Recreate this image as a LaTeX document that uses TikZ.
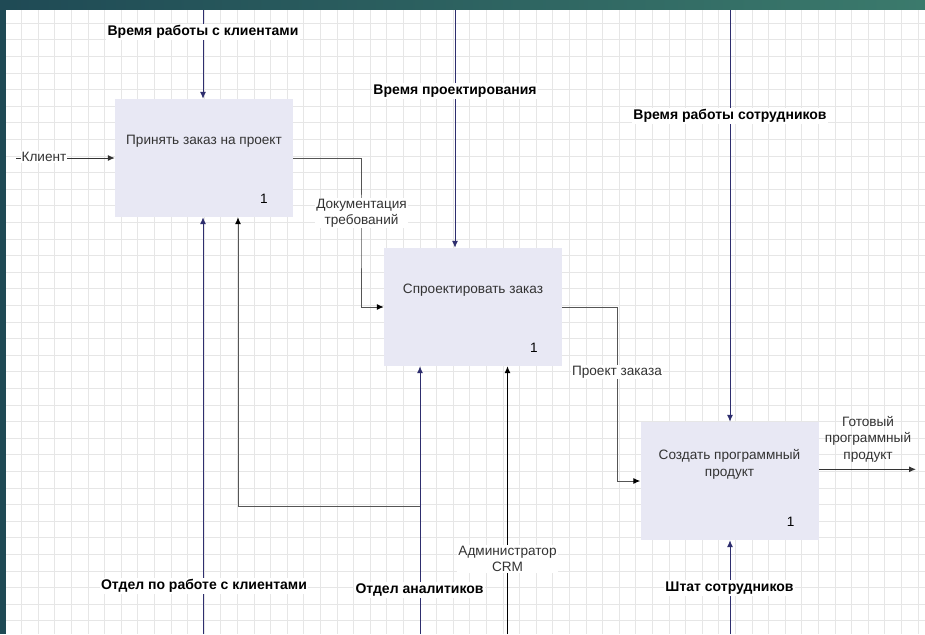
\documentclass[tikz,border=0pt]{standalone}
\usepackage{fontspec}
\setmainfont{Liberation Sans}
\usetikzlibrary{arrows.meta}
\definecolor{navy}{HTML}{2E2E6E}
\definecolor{boxc}{HTML}{E8E8F4}
\definecolor{txt}{HTML}{333333}
\definecolor{gridc}{HTML}{E6E6E6}
\definecolor{tealL}{HTML}{1F4A55}
\definecolor{tealR}{HTML}{3B7A6C}
\definecolor{lineg}{HTML}{555555}
\newcommand{\fsz}{\fontsize{13.6}{16.5}\selectfont}
\newcommand{\fszb}{\fontsize{14}{16.5}\selectfont}
\begin{document}
\begin{tikzpicture}[x=1pt,y=-1pt,
  box/.style={fill=boxc, minimum width=178pt, minimum height=118pt, inner sep=0pt},
  btext/.style={text=txt, font=\fsz, align=center, inner sep=0pt},
  numtext/.style={text=black, font=\fsz, inner sep=0pt},
  blabel/.style={fill=white, font=\fszb\bfseries, text=black, inner sep=1.5pt},
  rlabel/.style={fill=white, font=\fsz, text=txt, align=center, inner sep=1pt},
  navyarrow/.style={draw=navy, line width=1pt, -{Latex[length=7pt,width=6pt]}},
  grayarrow/.style={draw=lineg, line width=1pt, -{Latex[length=7pt,width=6pt,color=black]}},
  blackarrow/.style={draw=black, line width=1pt, -{Latex[length=7pt,width=6pt]}},
  grayline/.style={draw=lineg, line width=1pt}]
\useasboundingbox (0,0) rectangle (925,634);
\fill[white] (0,0) rectangle (925,634);
% grid
\foreach \i in {0,...,55} \draw[gridc, line width=0.9pt] ({5.1+16.6*\i},0) -- ({5.1+16.6*\i},634);
\foreach \j in {0,...,38} \draw[gridc, line width=0.9pt] (0,{6.7+16.6*\j}) -- (925,{6.7+16.6*\j});
% frame stripes
\shade[left color=tealL, right color=tealR] (0,0) rectangle (925,9.5);
\fill[tealL] (0,0) rectangle (6,634);

% boxes
\node[box] (b1) at (204,158) {};
\node[box] (b2) at (473,307) {};
\node[box] (b3) at (729.5,481) {};
\node[btext] (t1) at (204,141.7) {Принять заказ на проект};
\node[btext] (t2) at (473,290) {Спроектировать заказ};
\node[btext] (t3) at (729.5,464.5) {Создать программный\\продукт};
\node[numtext] (n1) at (264,199) {1};
\node[numtext] (n2) at (534,348) {1};
\node[numtext] (n3) at (790.7,522) {1};

% free ends
\coordinate (c1) at (203,10);
\coordinate (c2) at (455,10);
\coordinate (c3) at (730,10);
\coordinate (m1) at (203,634);
\coordinate (m2) at (420,634);
\coordinate (m2b) at (420,506);
\coordinate (fb) at (238,506);
\coordinate (m3) at (507.5,634);
\coordinate (m4) at (730,634);
\coordinate (in1) at (16,158);
\coordinate (k1) at (361,230);
\coordinate (k2) at (617,400);
\coordinate (o3) at (916,469.3);

% connectors
\draw[navyarrow] (c1) -- (c1 |- b1.north);
\draw[navyarrow] (c2) -- (c2 |- b2.north);
\draw[navyarrow] (c3) -- (c3 |- b3.north);
\draw[navyarrow] (m1) -- (m1 |- b1.south);
\draw[navyarrow] (m2) -- (m2 |- b2.south);
\draw[grayline] (m2b) -- (fb);
\draw[grayarrow] (fb) -- (fb |- b1.south);
\draw[blackarrow] (m3) -- (m3 |- b2.south);
\draw[navyarrow] (m4) -- (m4 |- b3.south);
\draw[blackarrow, draw=txt] (in1) -- (b1.west);
\draw[grayarrow] (b1.east) -| (k1) |- (b2.west);
\draw[grayarrow] (b2.east) -| (k2) |- (b3.west);
\draw[blackarrow, draw=txt] (o3 -| b3.east) -- (o3);

% labels
\node[blabel] (l1) at (203,32) {Время работы с клиентами};
\node[blabel] (l2) at (455,91) {Время проектирования};
\node[blabel] (l3) at (730,116) {Время работы сотрудников};
\node[blabel] (l4) at (204,586) {Отдел по работе с клиентами};
\node[blabel] (l5) at (419.5,590) {Отдел аналитиков};
\node[blabel] (l6) at (729.5,588) {Штат сотрудников};
\node[rlabel] (l7) at (44,157) {Клиент};
\node[rlabel] (l8) at (361.5,213) {Документация\\требований};
\node[rlabel] (l9) at (617,372) {Проект заказа};
\node[rlabel] (l10) at (507.5,559) {Администратор\\CRM};
\node[rlabel, fill=none] (l11) at (868,439) {Готовый\\программный\\продукт};
\end{tikzpicture}
\end{document}
